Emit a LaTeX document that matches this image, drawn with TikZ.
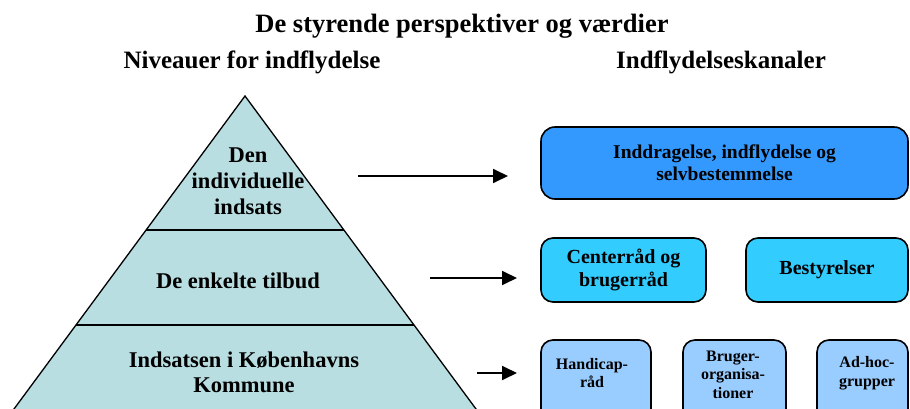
\documentclass[tikz,border=0pt]{standalone}
\usepackage{fontspec}
\setmainfont{Liberation Serif}
\usetikzlibrary{arrows.meta}
\definecolor{pyr}{RGB}{184,222,225}
\definecolor{chanA}{RGB}{51,153,255}
\definecolor{chanB}{RGB}{51,204,255}
\definecolor{chanC}{RGB}{153,204,255}
\begin{document}
\begin{tikzpicture}[x=1pt,y=-1pt,
  titlefont/.style={font=\fontsize{26.5}{30}\selectfont\bfseries, inner sep=0},
  hdr/.style={font=\fontsize{25}{29}\selectfont\bfseries, inner sep=0},
  lvl/.style={font=\fontsize{22.5}{26}\selectfont\bfseries, align=center, inner sep=0},
  chan/.style={draw=black, line width=1.6pt, inner sep=0, align=center},
  bigtxt/.style={font=\fontsize{19.5}{22}\selectfont\bfseries, align=center, inner sep=0},
  smalltxt/.style={font=\fontsize{16}{18.5}\selectfont\bfseries, align=center, inner sep=0},
  arr/.style={line width=1.8pt, -{Triangle[length=15pt,width=14pt]}},
]
\useasboundingbox (0,0) rectangle (910,409);
\begin{scope}
\clip (0,0) rectangle (910,409);
% pyramid
\draw[fill=pyr, line width=1.3pt, line join=miter] (245,96) -- (491.5,430) -- (-1.5,430) -- cycle;
\draw[line width=1.8pt] (146.1,230) -- (343.9,230);
\draw[line width=1.8pt] (76,325) -- (414,325);
% titles
\node[titlefont] (title) at (462,26) {De styrende perspektiver og værdier};
\node[hdr] (niv) at (252,62) {Niveauer for indflydelse};
\node[hdr] (kan) at (721,62) {Indflydelseskanaler};
% pyramid texts
\node[lvl] (l1) at (248,181) {Den\\individuelle\\indsats};
\node[lvl] (l2) at (238,281) {De enkelte tilbud};
\node[lvl, font=\fontsize{22.5}{25}\selectfont\bfseries] (l3) at (244,372.5) {Indsatsen i Københavns\\Kommune};
% arrows
\coordinate (a1s) at (358,176);
\coordinate (a1e) at (508,176);
\coordinate (a2s) at (430,278);
\coordinate (a2e) at (517,278);
\coordinate (a3s) at (477,373);
\coordinate (a3e) at (517,373);
\draw[arr] (a1s) -- (a1e);
\draw[arr] (a2s) -- (a2e);
\draw[arr] (a3s) -- (a3e);
% channel boxes
\node[chan, bigtxt, fill=chanA, rounded corners=14pt, minimum width=367pt, minimum height=72pt] (inv) at (724.5,163) {Inddragelse, indflydelse og\\selvbestemmelse};
\node[chan, fill=chanB, rounded corners=12pt, minimum width=165pt, minimum height=64pt, font=\fontsize{20}{23}\selectfont\bfseries] (cen) at (623.5,270) {Centerråd og\\brugerråd};
\node[chan, fill=chanB, rounded corners=12pt, minimum width=162pt, minimum height=64pt, font=\fontsize{20}{23}\selectfont\bfseries] (bes) at (827,270) {Bestyrelser};
\node[chan, fill=chanC, rounded corners=12pt, minimum width=110pt, minimum height=90pt] (hc) at (596,385) {};
\node[chan, fill=chanC, rounded corners=12pt, minimum width=103pt, minimum height=90pt] (bo) at (734.5,385) {};
\node[chan, fill=chanC, rounded corners=12pt, minimum width=91pt, minimum height=90pt] (ah) at (862.5,385) {};
\node[smalltxt] (hct) at (592,373) {Handicap-\\råd};
\node[smalltxt] (bot) at (733,374.5) {Bruger-\\organisa-\\tioner};
\node[smalltxt] (aht) at (867,373) {Ad-hoc-\\grupper};
\end{scope}
\end{tikzpicture}
\end{document}
